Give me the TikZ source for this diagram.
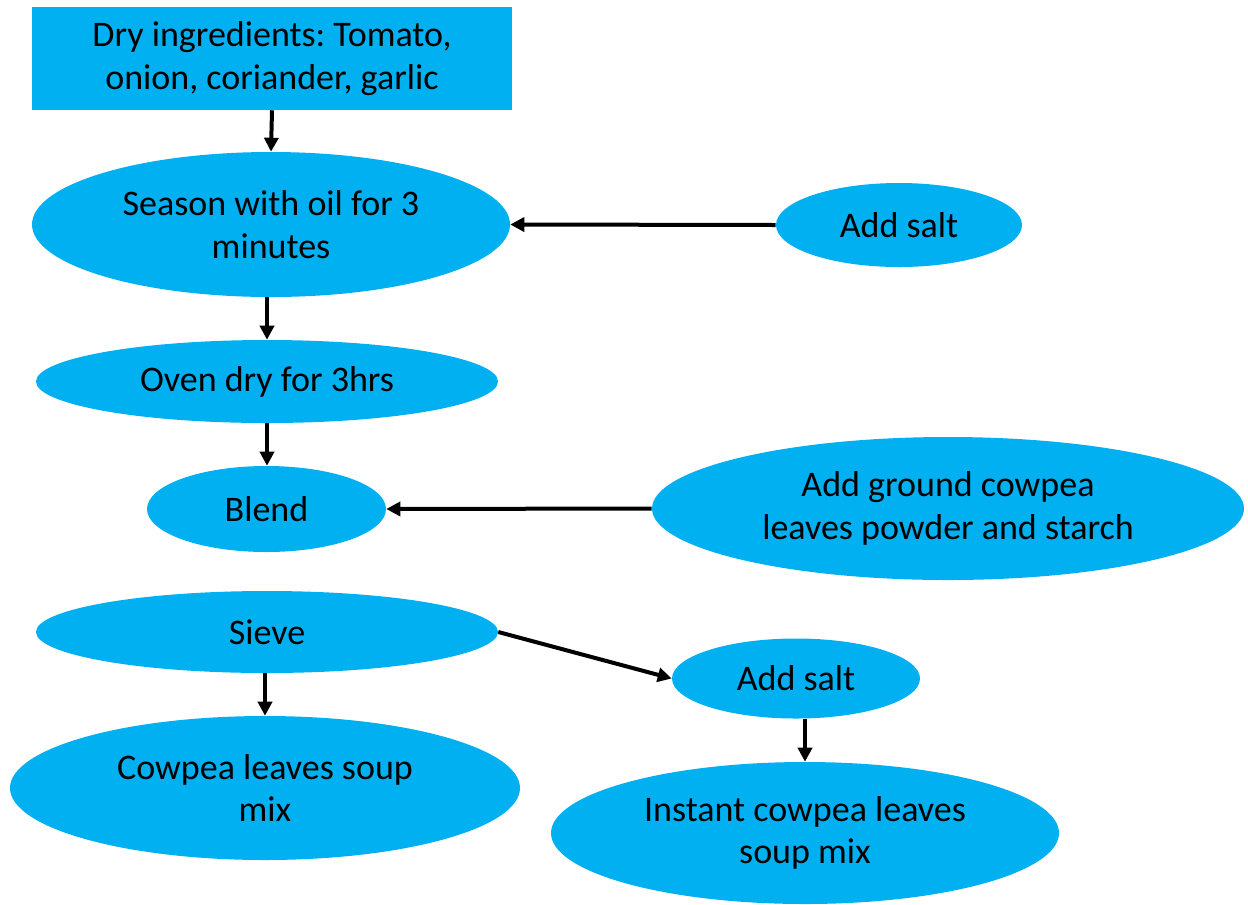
\documentclass[tikz,border=0pt]{standalone}
\usepackage{fontspec}
\setmainfont{Carlito}
\usetikzlibrary{shapes.geometric,arrows.meta}
\definecolor{boxblue}{HTML}{00B0F0}
\frenchspacing
\begin{document}
\begin{tikzpicture}[x=0.75pt,y=-0.75pt,
  every node/.style={font=\fontsize{27}{32}\selectfont, text=black, align=center, inner sep=0pt},
  ovalbox/.style={ellipse, fill=boxblue, draw=none},
  rectbox/.style={rectangle, fill=boxblue, draw=none},
  conn/.style={line width=3pt, -{Triangle[length=10.5pt,width=10.5pt]}}]
\useasboundingbox (0,0) rectangle (1248,904);
\node[rectbox, minimum width=360pt, minimum height=77.25pt] (dry) at (272,58.5) {Dry ingredients: Tomato,\\onion, coriander, garlic};
\node[ovalbox, minimum width=358.5pt, minimum height=108.75pt] (season) at (271,224.5) {Season with oil for 3\\minutes};
\node[ovalbox, minimum width=184.5pt, minimum height=63pt] (salt1) at (899,225) {Add salt};
\node[ovalbox, minimum width=346.5pt, minimum height=62.25pt] (oven) at (267,381.5) {Oven dry for 3hrs};
\node[ovalbox, minimum width=179.25pt, minimum height=64.5pt] (blend) at (266.5,509) {Blend};
\node[ovalbox, minimum width=444pt, minimum height=107.25pt] (ground) at (948,508.5) {Add ground cowpea\\leaves powder and starch};
\node[ovalbox, minimum width=346.5pt, minimum height=61.5pt] (sieve) at (267,632) {Sieve};
\node[ovalbox, minimum width=186pt, minimum height=60pt] (salt2) at (796,678.5) {Add salt};
\node[ovalbox, minimum width=382.5pt, minimum height=108pt] (soup) at (265,788) {Cowpea leaves soup\\mix};
\node[ovalbox, minimum width=381pt, minimum height=106.5pt] (instant) at (805,833) {Instant cowpea leaves\\soup mix};
\draw[conn] (dry.south) -- (season.north);
\draw[conn] (salt1.west) -- (season.east);
\draw[conn] (oven.north |- season.south) -- (oven.north);
\draw[conn] (oven.south) -- (blend.north -| oven.south);
\draw[conn] (ground.west) -- (blend.east);
\draw[conn] (soup.north |- sieve.south) -- (soup.north);
\draw[conn] (sieve.east) -- (salt2.west);
\draw[conn] (instant.north |- salt2.south) -- (instant.north);
\end{tikzpicture}
\end{document}
